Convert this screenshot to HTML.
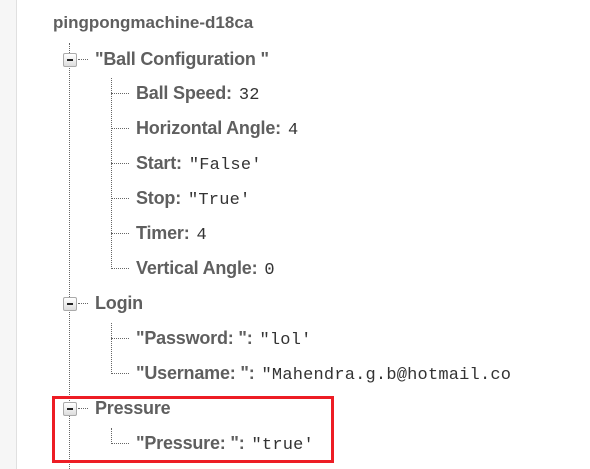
<!DOCTYPE html>
<html><head><style>
body{margin:0;width:590px;height:469px;background:#fff;position:relative;overflow:hidden;font-family:"Liberation Sans",sans-serif}
.side{position:absolute;left:0;top:0;width:16px;height:469px;background:#f6f6f6;border-right:1px solid #e0e0e0}
.t{position:absolute;font-weight:bold;color:#5f5f5f;font-size:18px;white-space:nowrap;line-height:20px;letter-spacing:-0.2px}
.t span{font-family:"Liberation Mono",monospace;font-weight:normal;color:#333;font-size:17px;margin-left:7px;letter-spacing:0.2px}
.v{position:absolute;border-left:1px dotted #666;width:0}
.h{position:absolute;border-top:1px dotted #666;height:0}
.box{position:absolute;width:12px;height:12px;border:1px solid #aaa;border-radius:2px;background:linear-gradient(#fff,#ddd)}
.box:after{content:"";position:absolute;left:3px;top:5px;width:6px;height:2px;background:#222}
.red{position:absolute;left:52px;top:396px;width:276px;height:61px;border:3px solid #ed1c24}
</style></head><body>
<div class="side"></div>
<div class="t" style="left:53px;top:13px;font-size:17px;letter-spacing:0">pingpongmachine-d18ca</div>
<div class="v" style="left:69px;top:43px;height:426px"></div>
<div class="box" style="left:63px;top:53px"></div><div class="h" style="left:78px;top:59px;width:10px"></div>
<div class="t" style="left:95px;top:49px">"Ball Configuration "</div>
<div class="v" style="left:111px;top:78px;height:191px"></div>
<div class="h" style="left:111px;top:93px;width:18px"></div><div class="t" style="left:136px;top:83px">Ball Speed:<span>32</span></div>
<div class="h" style="left:111px;top:128px;width:18px"></div><div class="t" style="left:136px;top:118px">Horizontal Angle:<span>4</span></div>
<div class="h" style="left:111px;top:163px;width:18px"></div><div class="t" style="left:136px;top:153px">Start:<span>"False'</span></div>
<div class="h" style="left:111px;top:198px;width:18px"></div><div class="t" style="left:136px;top:188px">Stop:<span>"True'</span></div>
<div class="h" style="left:111px;top:233px;width:18px"></div><div class="t" style="left:136px;top:223px">Timer:<span>4</span></div>
<div class="h" style="left:111px;top:268px;width:18px"></div><div class="t" style="left:136px;top:258px">Vertical Angle:<span>0</span></div>
<div class="box" style="left:63px;top:297px"></div><div class="h" style="left:78px;top:303px;width:10px"></div>
<div class="t" style="left:95px;top:293px">Login</div>
<div class="v" style="left:111px;top:323px;height:51px"></div>
<div class="h" style="left:111px;top:338px;width:18px"></div><div class="t" style="left:136px;top:328px">"Password: ":<span>"lol'</span></div>
<div class="h" style="left:111px;top:373px;width:18px"></div><div class="t" style="left:136px;top:363px">"Username: ":<span>"Mahendra.g.b@hotmail.co</span></div>
<div class="box" style="left:63px;top:402px"></div><div class="h" style="left:78px;top:408px;width:10px"></div>
<div class="t" style="left:95px;top:398px">Pressure</div>
<div class="v" style="left:111px;top:428px;height:16px"></div>
<div class="h" style="left:111px;top:443px;width:18px"></div><div class="t" style="left:136px;top:433px">"Pressure: ":<span>"true'</span></div>
<div class="red"></div>
</body></html>
